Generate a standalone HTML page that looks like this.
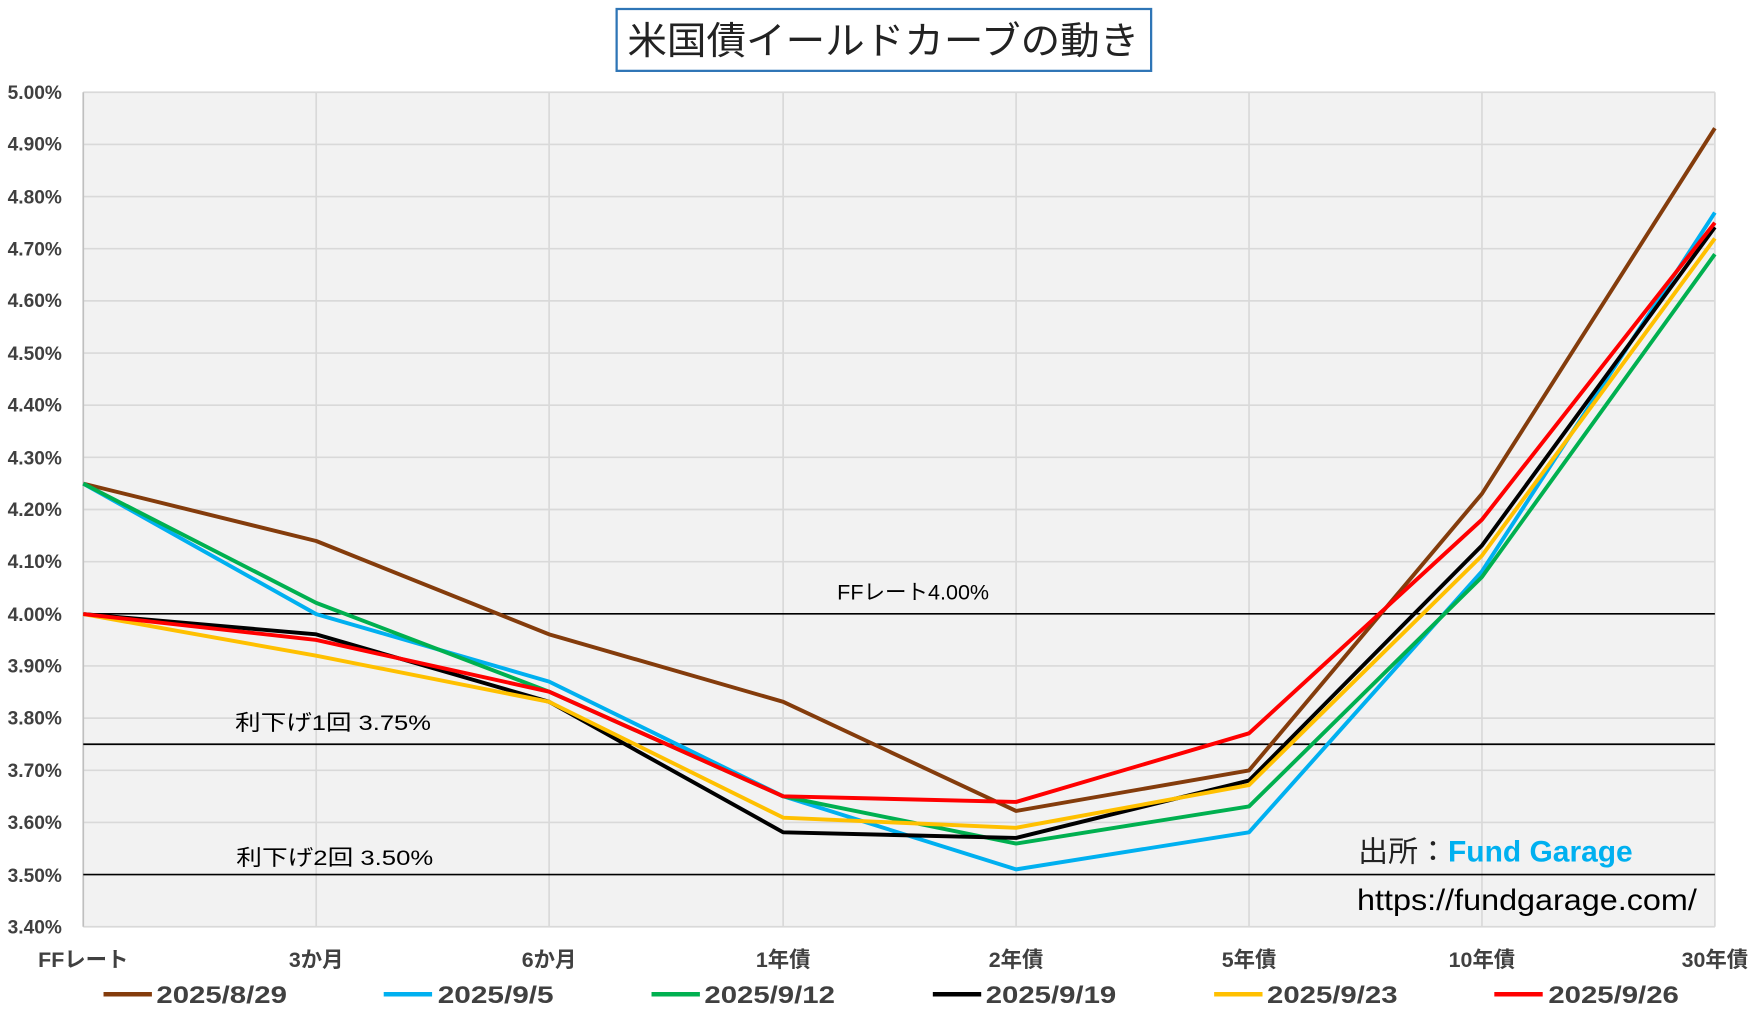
<!DOCTYPE html>
<html><head><meta charset="utf-8"><style>
html,body{margin:0;padding:0;background:#fff;}
svg{display:block;}
text{font-family:"Liberation Sans","Noto Sans CJK JP",sans-serif;}
</style></head><body>
<svg width="1761" height="1010" viewBox="0 0 1565 898" preserveAspectRatio="none" xmlns="http://www.w3.org/2000/svg">
<rect width="1565" height="898" fill="#fff"/>
<rect x="548" y="8" width="475" height="55" fill="#fff" stroke="#2e75b6" stroke-width="2"/>
<text x="785" y="48" font-size="34" text-anchor="middle" fill="#222" textLength="455" lengthAdjust="spacingAndGlyphs">米国債イールドカーブの動き</text>
<rect x="74" y="82" width="1450" height="742" fill="#f2f2f2"/>
<g stroke="#d9d9d9" stroke-width="1.5">
<line x1="74" x2="1524" y1="82" y2="82"/><line x1="74" x2="1524" y1="128.4" y2="128.4"/><line x1="74" x2="1524" y1="174.75" y2="174.75"/><line x1="74" x2="1524" y1="221.1" y2="221.1"/><line x1="74" x2="1524" y1="267.5" y2="267.5"/><line x1="74" x2="1524" y1="313.9" y2="313.9"/><line x1="74" x2="1524" y1="360.25" y2="360.25"/><line x1="74" x2="1524" y1="406.6" y2="406.6"/><line x1="74" x2="1524" y1="453" y2="453"/><line x1="74" x2="1524" y1="499.4" y2="499.4"/><line x1="74" x2="1524" y1="592.1" y2="592.1"/><line x1="74" x2="1524" y1="638.5" y2="638.5"/><line x1="74" x2="1524" y1="684.9" y2="684.9"/><line x1="74" x2="1524" y1="731.25" y2="731.25"/><line x1="74" x2="1524" y1="824" y2="824"/>
<line x1="281" x2="281" y1="82" y2="824"/><line x1="488" x2="488" y1="82" y2="824"/><line x1="696" x2="696" y1="82" y2="824"/><line x1="903" x2="903" y1="82" y2="824"/><line x1="1110" x2="1110" y1="82" y2="824"/><line x1="1317" x2="1317" y1="82" y2="824"/><line x1="1524" x2="1524" y1="82" y2="824"/>
</g>
<line x1="74" x2="74" y1="82" y2="824" stroke="#bfbfbf" stroke-width="1.5"/>
<g stroke="#000" stroke-width="1.5">
<line x1="74" x2="1524" y1="545.75" y2="545.75"/><line x1="74" x2="1524" y1="661.7" y2="661.7"/><line x1="74" x2="1524" y1="777.6" y2="777.6"/>
</g>
<g font-size="17" font-weight="bold" fill="#404040" text-anchor="end">
<text x="55" y="88">5.00%</text><text x="55" y="134">4.90%</text><text x="55" y="181">4.80%</text><text x="55" y="227">4.70%</text><text x="55" y="273">4.60%</text><text x="55" y="320">4.50%</text><text x="55" y="366">4.40%</text><text x="55" y="413">4.30%</text><text x="55" y="459">4.20%</text><text x="55" y="505">4.10%</text><text x="55" y="552">4.00%</text><text x="55" y="598">3.90%</text><text x="55" y="644">3.80%</text><text x="55" y="691">3.70%</text><text x="55" y="737">3.60%</text><text x="55" y="784">3.50%</text><text x="55" y="830">3.40%</text>
</g>
<g font-size="19" font-weight="bold" fill="#404040" text-anchor="middle">
<text x="74" y="860">FFレート</text><text x="281" y="860">3か月</text><text x="488" y="860">6か月</text><text x="696" y="860">1年債</text><text x="903" y="860">2年債</text><text x="1110" y="860">5年債</text><text x="1317" y="860">10年債</text><text x="1524" y="860">30年債</text>
</g>
<g font-size="19" fill="#000">
<text x="744" y="533" textLength="135" lengthAdjust="spacingAndGlyphs">FFレート4.00%</text>
<text x="209" y="649" textLength="174" lengthAdjust="spacingAndGlyphs">利下げ1回 3.75%</text>
<text x="210" y="769" textLength="175" lengthAdjust="spacingAndGlyphs">利下げ2回 3.50%</text>
</g>
<text x="1207" y="766" font-size="26" fill="#222" textLength="244" lengthAdjust="spacingAndGlyphs">出所：<tspan fill="#00b0f0" font-weight="bold">Fund Garage</tspan></text>
<text x="1206" y="809" font-size="26" fill="#000" textLength="302" lengthAdjust="spacingAndGlyphs">https://fundgarage.com/</text>
<g fill="none" stroke-width="3.5" stroke-linejoin="round">
<polyline stroke="#843c0c" points="74,430 281,481 488,564 696,624 903,721 1110,685 1317,439 1524,114"/>
<polyline stroke="#00b0f0" points="74,430 281,546 488,606 696,708 903,773 1110,740 1317,508 1524,189"/>
<polyline stroke="#00b050" points="74,430 281,536 488,615 696,708 903,750 1110,717 1317,513 1524,226"/>
<polyline stroke="#000000" points="74,546 281,564 488,624 696,740 903,745 1110,694 1317,485 1524,202"/>
<polyline stroke="#ffc000" points="74,546 281,583 488,624 696,727 903,736 1110,698 1317,494 1524,212"/>
<polyline stroke="#ff0000" points="74,546 281,569 488,615 696,708 903,713 1110,652 1317,462 1524,198"/>
</g>
<g stroke-width="4">
<line x1="92" x2="135" y1="884" y2="884" stroke="#843c0c"/>
<line x1="341" x2="384" y1="884" y2="884" stroke="#00b0f0"/>
<line x1="579" x2="622" y1="884" y2="884" stroke="#00b050"/>
<line x1="829" x2="872" y1="884" y2="884" stroke="#000"/>
<line x1="1079" x2="1122" y1="884" y2="884" stroke="#ffc000"/>
<line x1="1328" x2="1371" y1="884" y2="884" stroke="#ff0000"/>
</g>
<g font-size="21" font-weight="bold" fill="#404040">
<text x="139" y="892" textLength="116" lengthAdjust="spacingAndGlyphs">2025/8/29</text><text x="389" y="892" textLength="103" lengthAdjust="spacingAndGlyphs">2025/9/5</text><text x="626" y="892" textLength="116" lengthAdjust="spacingAndGlyphs">2025/9/12</text><text x="876" y="892" textLength="116" lengthAdjust="spacingAndGlyphs">2025/9/19</text><text x="1126" y="892" textLength="116" lengthAdjust="spacingAndGlyphs">2025/9/23</text><text x="1376" y="892" textLength="116" lengthAdjust="spacingAndGlyphs">2025/9/26</text>
</g>
</svg>
</body></html>
